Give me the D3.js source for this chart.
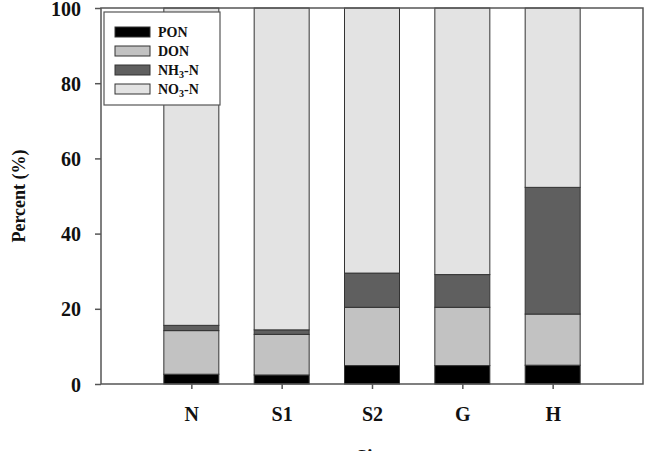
<!DOCTYPE html>
<html>
<head>
<meta charset="utf-8">
<script src="https://cdn.jsdelivr.net/npm/d3@7"></script>
<style>
  body { margin: 0; background: #fff; }
  text { font-family: "Liberation Serif", "Times New Roman", serif; font-weight: bold; fill: #111; }
</style>
</head>
<body>
<div id="vis"></div>
<script>
// data
const sites = ['N', 'S1', 'S2', 'G', 'H'];
const pon = [2.6, 2.4, 4.9, 4.9, 5.0];
const don = [11.6, 10.8, 15.5, 15.5, 13.6];
const nh3 = [1.4, 1.2, 9.1, 8.7, 33.7];
const no3 = [84.4, 85.6, 70.5, 70.9, 47.7];
const yTicks = [0, 20, 40, 60, 80, 100];

const keys = ['PON', 'DON', 'NH3', 'NO3'];
const colors = { PON: '#000000', DON: '#c2c2c2', NH3: '#5f5f5f', NO3: '#e3e3e3' };

const rows = sites.map((s, i) => ({ site: s, PON: pon[i], DON: don[i], NH3: nh3[i], NO3: no3[i] }));

const W = 653, H = 451;
const margin = { top: 8, right: 10, bottom: 67, left: 101 };
const w = W - margin.left - margin.right;
const h = H - margin.top - margin.bottom;

const svg = d3.select('#vis').append('svg')
  .attr('width', W).attr('height', H);
const g = svg.append('g').attr('transform', `translate(${margin.left},${margin.top})`);

// bars sit at positions 1..5 in a 0..6 domain
const x = d3.scaleLinear().domain([0, sites.length + 1]).range([0, w]);
const y = d3.scaleLinear().domain([0, 100]).range([h, 0]);
const barW = 55;

const stack = d3.stack().keys(keys)(rows);

g.selectAll('.layer')
  .data(stack)
  .join('g')
    .attr('class', 'layer')
    .attr('fill', d => colors[d.key])
  .selectAll('rect')
  .data(d => d)
  .join('rect')
    .attr('x', (d, i) => x(i + 1) - barW / 2)
    .attr('y', d => y(d[1]))
    .attr('width', barW)
    .attr('height', d => y(d[0]) - y(d[1]))
    .attr('stroke', '#333')
    .attr('stroke-width', 1);

// frame
g.append('rect')
  .attr('x', 0).attr('y', 0).attr('width', w).attr('height', h)
  .attr('fill', 'none').attr('stroke', '#555').attr('stroke-width', 1.5);

// y axis
const yAxis = g.append('g')
  .call(d3.axisLeft(y).tickValues(yTicks).tickSize(6).tickPadding(14));
yAxis.select('.domain').remove();
yAxis.selectAll('line').attr('stroke', '#555').attr('stroke-width', 1.5);
yAxis.selectAll('text').style('font-size', '20px').attr('dy', '0.35em');

// x axis
const xAxis = g.append('g')
  .attr('transform', `translate(0,${h})`)
  .call(d3.axisBottom(x).tickValues(d3.range(1, sites.length + 1))
    .tickFormat(i => sites[i - 1]).tickSize(5).tickPadding(18));
xAxis.select('.domain').remove();
xAxis.selectAll('line').attr('stroke', '#555').attr('stroke-width', 1.5);
xAxis.selectAll('text').style('font-size', '20px');

// axis titles
svg.append('text')
  .attr('transform', `translate(25,${margin.top + h / 2}) rotate(-90)`)
  .attr('text-anchor', 'middle')
  .style('font-size', '18px')
  .text('Percent (%)');

svg.append('text')
  .attr('x', margin.left + w / 2)
  .attr('y', 464)
  .attr('text-anchor', 'middle')
  .style('font-size', '20px')
  .text('Site');

// legend
const legend = svg.append('g').attr('transform', 'translate(104,12)');
legend.append('rect')
  .attr('width', 116).attr('height', 93)
  .attr('fill', '#fff').attr('stroke', '#555').attr('stroke-width', 1.2);

const labels = [
  { key: 'PON', main: 'PON' },
  { key: 'DON', main: 'DON' },
  { key: 'NH3', main: 'NH', sub: '3', tail: '-N' },
  { key: 'NO3', main: 'NO', sub: '3', tail: '-N' }
];
const ly = d3.scalePoint().domain(keys).range([20, 77]);

const item = legend.selectAll('.item')
  .data(labels)
  .join('g')
    .attr('class', 'item')
    .attr('transform', d => `translate(0,${ly(d.key)})`);

item.append('rect')
  .attr('x', 11).attr('y', -5).attr('width', 35).attr('height', 10)
  .attr('fill', d => colors[d.key]).attr('stroke', '#333').attr('stroke-width', 1);

const lt = item.append('text')
  .attr('x', 54).attr('dy', '0.35em')
  .style('font-size', '14px');
lt.append('tspan').text(d => d.main);
lt.filter(d => d.sub).append('tspan')
  .attr('dy', 3).style('font-size', '10px').text(d => d.sub);
lt.filter(d => d.tail).append('tspan')
  .attr('dy', -3).text(d => d.tail);
</script>
</body>
</html>
